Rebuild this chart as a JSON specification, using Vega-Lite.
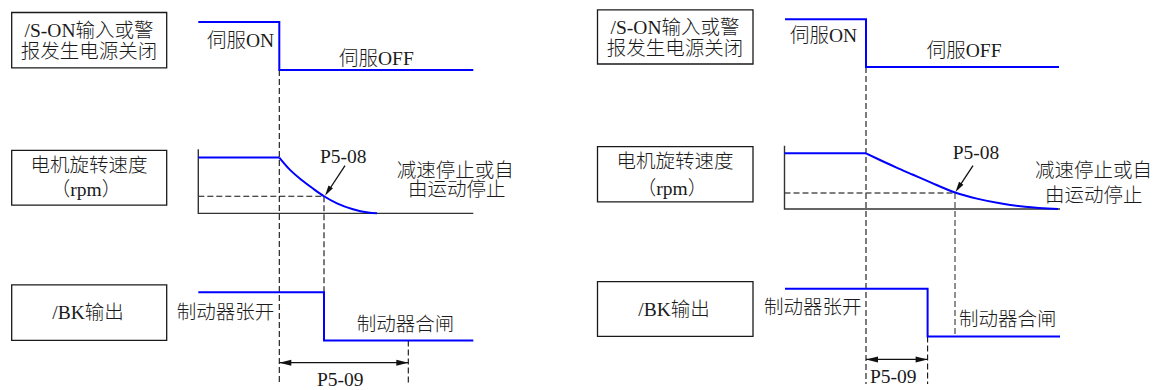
{
  "$schema": "https://vega.github.io/schema/vega-lite/v6.json",
  "width": 1161,
  "height": 390,
  "padding": 0,
  "autosize": {"type": "fit", "contains": "padding"},
  "background": "white",
  "config": {"view": {"stroke": null}},
  "datasets": {
    "boxes": [
      {"x": 11.7, "x2": 166.7, "y": 12.7, "y2": 69},
      {"x": 11.7, "x2": 166.7, "y": 152.7, "y2": 208.3},
      {"x": 11.7, "x2": 166.7, "y": 289.3, "y2": 345.7},
      {"x": 597.5, "x2": 753, "y": 10, "y2": 65},
      {"x": 597.5, "x2": 753, "y": 149, "y2": 205},
      {"x": 597.5, "x2": 753, "y": 286, "y2": 341.7}
    ],
    "boxText": [
      {"x": 89, "y": 31.7, "label": "/S-ON输入或警"},
      {"x": 89, "y": 53.3, "label": "报发生电源关闭"},
      {"x": 89, "y": 168.3, "label": "电机旋转速度"},
      {"x": 86, "y": 193.3, "label": "（rpm）"},
      {"x": 88, "y": 318.3, "label": "/BK输出"},
      {"x": 675, "y": 28.3, "label": "/S-ON输入或警"},
      {"x": 675, "y": 50, "label": "报发生电源关闭"},
      {"x": 675, "y": 165, "label": "电机旋转速度"},
      {"x": 672, "y": 191.7, "label": "（rpm）"},
      {"x": 674, "y": 315, "label": "/BK输出"}
    ],
    "labels": [
      {"x": 207, "y": 41.7, "label": "伺服ON"},
      {"x": 339, "y": 60, "label": "伺服OFF"},
      {"x": 320, "y": 159.3, "label": "P5-08"},
      {"x": 396.7, "y": 173.3, "label": "减速停止或自"},
      {"x": 408, "y": 193.3, "label": "由运动停止"},
      {"x": 176.7, "y": 318.3, "label": "制动器张开"},
      {"x": 356.7, "y": 330, "label": "制动器合闸"},
      {"x": 317, "y": 386, "label": "P5-09"},
      {"x": 790, "y": 36.7, "label": "伺服ON"},
      {"x": 926.7, "y": 51.7, "label": "伺服OFF"},
      {"x": 952.7, "y": 155, "label": "P5-08"},
      {"x": 1035, "y": 174, "label": "减速停止或自"},
      {"x": 1045, "y": 199, "label": "由运动停止"},
      {"x": 764, "y": 313.3, "label": "制动器张开"},
      {"x": 959, "y": 325, "label": "制动器合闸"},
      {"x": 870, "y": 383.3, "label": "P5-09"}
    ],
    "signals": [
      {"sig": "L1", "ord": 1, "x": 198.3, "y": 22.3},
      {"sig": "L1", "ord": 2, "x": 279.3, "y": 22.3},
      {"sig": "L1", "ord": 3, "x": 279.3, "y": 71},
      {"sig": "L1", "ord": 4, "x": 473.3, "y": 71},
      {"sig": "L2", "ord": 1, "x": 198.3, "y": 160},
      {"sig": "L2", "ord": 2, "x": 279.3, "y": 160},
      {"sig": "L3", "ord": 1, "x": 198.3, "y": 296.7},
      {"sig": "L3", "ord": 2, "x": 324, "y": 296.7},
      {"sig": "L3", "ord": 3, "x": 324, "y": 345.7},
      {"sig": "L3", "ord": 4, "x": 473.3, "y": 345.7},
      {"sig": "R1", "ord": 1, "x": 785, "y": 19.5},
      {"sig": "R1", "ord": 2, "x": 866, "y": 19.5},
      {"sig": "R1", "ord": 3, "x": 866, "y": 68},
      {"sig": "R1", "ord": 4, "x": 1059, "y": 68},
      {"sig": "R2", "ord": 1, "x": 784.5, "y": 155.7},
      {"sig": "R2", "ord": 2, "x": 866, "y": 155.7},
      {"sig": "R3", "ord": 1, "x": 785, "y": 293.3},
      {"sig": "R3", "ord": 2, "x": 927.6, "y": 293.3},
      {"sig": "R3", "ord": 3, "x": 927.6, "y": 341.7},
      {"sig": "R3", "ord": 4, "x": 1060, "y": 341.7}
    ],
    "curves": [
      {"sig": "LC", "x": 279.3, "y": 160},
      {"sig": "LC", "x": 290, "y": 172.5},
      {"sig": "LC", "x": 302, "y": 183},
      {"sig": "LC", "x": 313, "y": 191.5},
      {"sig": "LC", "x": 324, "y": 199.3},
      {"sig": "LC", "x": 337, "y": 206.5},
      {"sig": "LC", "x": 353, "y": 212.5},
      {"sig": "LC", "x": 368, "y": 215.8},
      {"sig": "LC", "x": 377, "y": 216.7},
      {"sig": "RC", "x": 866, "y": 155.7},
      {"sig": "RC", "x": 880, "y": 162.5},
      {"sig": "RC", "x": 896, "y": 170},
      {"sig": "RC", "x": 913, "y": 177.5},
      {"sig": "RC", "x": 930, "y": 185},
      {"sig": "RC", "x": 955, "y": 195.5},
      {"sig": "RC", "x": 978, "y": 202},
      {"sig": "RC", "x": 1000, "y": 206.5},
      {"sig": "RC", "x": 1025, "y": 210},
      {"sig": "RC", "x": 1058, "y": 212.3}
    ],
    "axes": [
      {"sig": "LA", "ord": 1, "x": 198.3, "y": 151.7},
      {"sig": "LA", "ord": 2, "x": 198.3, "y": 216.7},
      {"sig": "LA", "ord": 3, "x": 473.3, "y": 216.7},
      {"sig": "RA", "ord": 1, "x": 784.5, "y": 148},
      {"sig": "RA", "ord": 2, "x": 784.5, "y": 212.3},
      {"sig": "RA", "ord": 3, "x": 1060, "y": 212.3}
    ],
    "dashBlack": [
      {"x": 279.3, "x2": 279.3, "y": 71, "y2": 390},
      {"x": 198.3, "x2": 324, "y": 199.3, "y2": 199.3},
      {"x": 324, "x2": 324, "y": 199.3, "y2": 296.7},
      {"x": 408.3, "x2": 408.3, "y": 345.7, "y2": 390},
      {"x": 866, "x2": 866, "y": 68, "y2": 390},
      {"x": 927.6, "x2": 927.6, "y": 341.7, "y2": 390}
    ],
    "dashGray": [
      {"x": 784.5, "x2": 955, "y": 196, "y2": 196},
      {"x": 955, "x2": 955, "y": 196, "y2": 341.7}
    ],
    "shafts": [
      {"x": 345, "x2": 327, "y": 168.3, "y2": 196},
      {"x": 279.3, "x2": 408.3, "y": 368.3, "y2": 368.3},
      {"x": 973, "x2": 957.5, "y": 168.3, "y2": 192},
      {"x": 866, "x2": 927.6, "y": 365, "y2": 365}
    ],
    "heads": [
      {"dir": "slant", "x": 325, "y": 198.8},
      {"dir": "left", "x": 279.3, "y": 368.3},
      {"dir": "right", "x": 408.3, "y": 368.3},
      {"dir": "slant", "x": 955.5, "y": 195},
      {"dir": "left", "x": 866, "y": 365},
      {"dir": "right", "x": 927.6, "y": 365}
    ]
  },
  "encoding": {
    "x": {"field": "x", "type": "quantitative", "scale": {"domain": [0, 1161], "nice": false, "zero": false}, "axis": null},
    "y": {"field": "y", "type": "quantitative", "scale": {"domain": [0, 390], "nice": false, "zero": false, "reverse": true}, "axis": null}
  },
  "layer": [
    {
      "data": {"name": "boxes"},
      "mark": {"type": "rect", "fill": "white", "stroke": "#1a1a1a", "strokeWidth": 1.3},
      "encoding": {"x2": {"field": "x2"}, "y2": {"field": "y2"}}
    },
    {
      "data": {"name": "dashBlack"},
      "mark": {"type": "rule", "color": "#111", "strokeWidth": 1.1, "strokeDash": [6, 3]},
      "encoding": {"x2": {"field": "x2"}, "y2": {"field": "y2"}}
    },
    {
      "data": {"name": "dashGray"},
      "mark": {"type": "rule", "color": "#555", "strokeWidth": 1.3, "strokeDash": [6, 3]},
      "encoding": {"x2": {"field": "x2"}, "y2": {"field": "y2"}}
    },
    {
      "data": {"name": "axes"},
      "mark": {"type": "line", "color": "#333", "strokeWidth": 1.4},
      "encoding": {"detail": {"field": "sig"}, "order": {"field": "ord", "type": "quantitative"}}
    },
    {
      "data": {"name": "signals"},
      "mark": {"type": "line", "color": "#0000ff", "strokeWidth": 2},
      "encoding": {"detail": {"field": "sig"}, "order": {"field": "ord", "type": "quantitative"}}
    },
    {
      "data": {"name": "curves"},
      "mark": {"type": "line", "color": "#0000ff", "strokeWidth": 2, "interpolate": "monotone"},
      "encoding": {"detail": {"field": "sig"}}
    },
    {
      "data": {"name": "shafts"},
      "mark": {"type": "rule", "color": "#111", "strokeWidth": 1.3},
      "encoding": {"x2": {"field": "x2"}, "y2": {"field": "y2"}}
    },
    {
      "data": {"name": "heads"},
      "transform": [{"filter": "datum.dir === 'left'"}],
      "mark": {"type": "point", "shape": "M 0 0 L -2 -0.5 L -2 0.5 Z", "filled": true, "color": "#111", "opacity": 1, "size": 144, "angle": 180}
    },
    {
      "data": {"name": "heads"},
      "transform": [{"filter": "datum.dir === 'right'"}],
      "mark": {"type": "point", "shape": "M 0 0 L -2 -0.5 L -2 0.5 Z", "filled": true, "color": "#111", "opacity": 1, "size": 144, "angle": 0}
    },
    {
      "data": {"name": "heads"},
      "transform": [{"filter": "datum.dir === 'slant'"}],
      "mark": {"type": "point", "shape": "M 0 0 L -2 -0.5 L -2 0.5 Z", "filled": true, "color": "#111", "opacity": 1, "size": 110, "angle": 123}
    },
    {
      "data": {"name": "boxText"},
      "mark": {"type": "text", "align": "center", "baseline": "middle", "font": "Liberation Serif, Noto Sans CJK SC", "fontSize": 19.5, "fontWeight": 300, "color": "#1a1a1a"},
      "encoding": {"text": {"field": "label"}}
    },
    {
      "data": {"name": "labels"},
      "mark": {"type": "text", "align": "left", "baseline": "middle", "font": "Liberation Serif, Noto Sans CJK SC", "fontSize": 19.5, "fontWeight": 300, "color": "#1a1a1a"},
      "encoding": {"text": {"field": "label"}}
    }
  ]
}
